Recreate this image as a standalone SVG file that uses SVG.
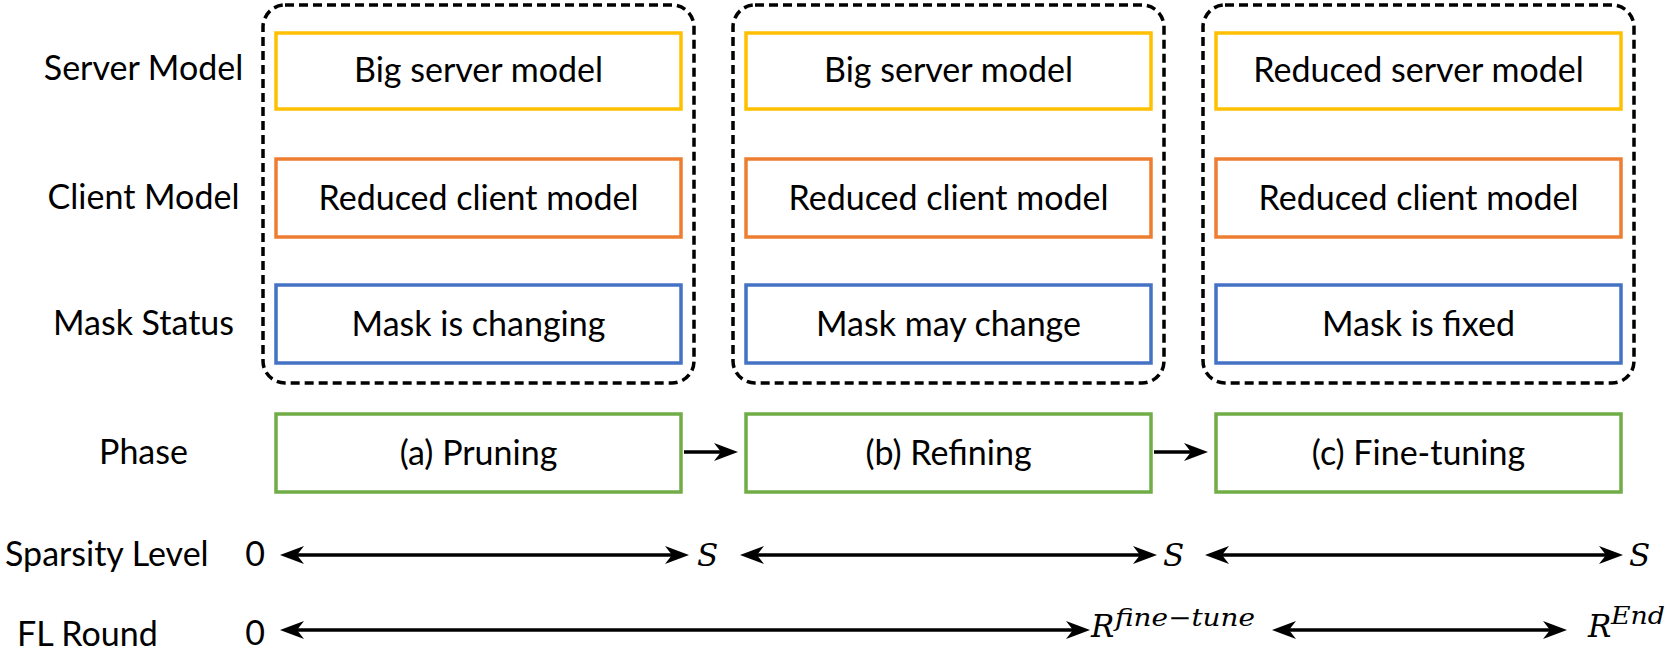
<svg xmlns="http://www.w3.org/2000/svg" width="1671" height="650" viewBox="0 0 1671 650">
  <style>
    .lbl { font-family: Lato, "Open Sans", "Liberation Sans", sans-serif; font-size: 34px; fill: #000; }
    .txt { font-family: Lato, "Open Sans", "Liberation Sans", sans-serif; font-size: 34px; fill: #000; text-anchor: middle; }
    .mid { text-anchor: middle; }
    .math { font-family: "DejaVu Serif", "Liberation Serif", serif; font-style: italic; font-size: 31px; fill: #000; }
    .sup { font-family: "DejaVu Serif", "Liberation Serif", serif; font-style: italic; font-size: 24px; fill: #000; }
    .group { fill: none; stroke: #000; stroke-width: 3.5; stroke-dasharray: 9 5; }
    .box { fill: #fff; stroke-width: 3.5; }
    .server { stroke: #FFC000; }
    .client { stroke: #ED7D31; }
    .mask { stroke: #4472C4; }
    .phase { stroke: #70AD47; }
    .arrow { fill: none; stroke: #000; stroke-width: 3.5; }
    .both { marker-start: url(#head); marker-end: url(#head); }
    .one { marker-end: url(#head); }
  </style>
  <defs>
    <!-- swept-back arrowhead; line ends 14px short of the tip -->
    <marker id="head" markerUnits="userSpaceOnUse" markerWidth="26" markerHeight="20" refX="10" refY="9" orient="auto-start-reverse" viewBox="0 0 26 18">
      <path d="M0,0 L24,9 L0,18 L7,9 Z" fill="#000"/>
    </marker>
  </defs>

  <!-- row labels -->
  <g id="row-labels">
    <text class="lbl mid" x="143.5" y="80">Server Model</text>
    <text class="lbl mid" x="143.5" y="209">Client Model</text>
    <text class="lbl mid" x="143.5" y="335">Mask Status</text>
    <text class="lbl mid" x="143.5" y="464">Phase</text>
    <text class="lbl" x="5" y="566">Sparsity Level</text>
    <text class="lbl" x="17" y="646">FL Round</text>
  </g>

  <!-- dashed phase groups -->
  <g id="group-a"><rect class="group" x="263" y="5" width="431" height="378" rx="22"/></g>
  <g id="group-b"><rect class="group" x="733" y="5" width="431" height="378" rx="22"/></g>
  <g id="group-c"><rect class="group" x="1203" y="5" width="431" height="378" rx="22"/></g>

  <!-- column a -->
  <g id="server-a"><rect class="box server" x="276" y="33" width="405" height="76"/><text class="txt" x="478.5" y="82">Big server model</text></g>
  <g id="client-a"><rect class="box client" x="276" y="159" width="405" height="78"/><text class="txt" x="478.5" y="210">Reduced client model</text></g>
  <g id="mask-a"><rect class="box mask" x="276" y="285" width="405" height="78"/><text class="txt" x="478.5" y="336">Mask is changing</text></g>
  <g id="phase-a"><rect class="box phase" x="276" y="414" width="405" height="78"/><text class="txt" x="478.5" y="465">(a) Pruning</text></g>

  <!-- column b -->
  <g id="server-b"><rect class="box server" x="746" y="33" width="405" height="76"/><text class="txt" x="948.5" y="82">Big server model</text></g>
  <g id="client-b"><rect class="box client" x="746" y="159" width="405" height="78"/><text class="txt" x="948.5" y="210">Reduced client model</text></g>
  <g id="mask-b"><rect class="box mask" x="746" y="285" width="405" height="78"/><text class="txt" x="948.5" y="336">Mask may change</text></g>
  <g id="phase-b"><rect class="box phase" x="746" y="414" width="405" height="78"/><text class="txt" x="948.5" y="465">(b) Refining</text></g>

  <!-- column c -->
  <g id="server-c"><rect class="box server" x="1216" y="33" width="405" height="76"/><text class="txt" x="1418.5" y="82">Reduced server model</text></g>
  <g id="client-c"><rect class="box client" x="1216" y="159" width="405" height="78"/><text class="txt" x="1418.5" y="210">Reduced client model</text></g>
  <g id="mask-c"><rect class="box mask" x="1216" y="285" width="405" height="78"/><text class="txt" x="1418.5" y="336">Mask is fixed</text></g>
  <g id="phase-c"><rect class="box phase" x="1216" y="414" width="405" height="78"/><text class="txt" x="1418.5" y="465">(c) Fine-tuning</text></g>

  <!-- axis end labels -->
  <g id="sparsity-ticks">
    <text class="lbl mid" x="255" y="566">0</text>
    <text class="math" x="697" y="566">S</text>
    <text class="math" x="1163" y="566">S</text>
    <text class="math" x="1629" y="566">S</text>
  </g>
  <g id="round-ticks">
    <text class="lbl mid" x="255" y="645">0</text>
    <text class="math" x="1091" y="637">R</text>
    <text class="sup" x="1115" y="626" textLength="140" lengthAdjust="spacingAndGlyphs">fine−tune</text>
    <text class="math" x="1588" y="637">R</text>
    <text class="sup" x="1611" y="624" textLength="54" lengthAdjust="spacingAndGlyphs">End</text>
  </g>

  <!-- connectors -->
  <g id="connectors">
    <line class="arrow one" x1="684" y1="452" x2="724" y2="452"/>
    <line class="arrow one" x1="1154" y1="452" x2="1194" y2="452"/>
    <line class="arrow both" x1="294" y1="555" x2="675" y2="555"/>
    <line class="arrow both" x1="754" y1="555" x2="1143" y2="555"/>
    <line class="arrow both" x1="1219" y1="555" x2="1609" y2="555"/>
    <line class="arrow both" x1="294" y1="630" x2="1076" y2="630"/>
    <line class="arrow both" x1="1286" y1="630" x2="1553" y2="630"/>
  </g>
</svg>
